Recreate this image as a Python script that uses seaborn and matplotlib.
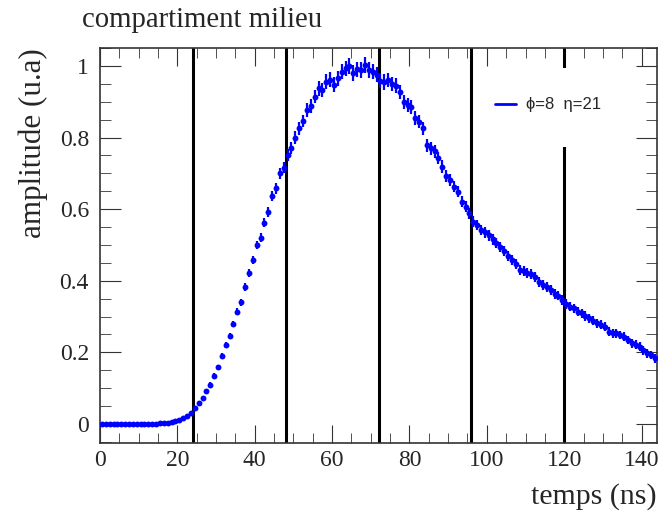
import numpy as np
import pandas as pd
import seaborn as sns
import matplotlib.pyplot as plt
from matplotlib.lines import Line2D
from matplotlib.patches import Rectangle
from matplotlib.ticker import MultipleLocator

# time bins (ns), centre of each 1 ns bin
temps = np.arange(144) + 0.5

amplitude = [
    0.000, 0.000, 0.000, 0.000, 0.000, 0.000, 0.000, 0.000, 0.000, 0.000,
    0.000, 0.000, 0.001, 0.001, 0.001, 0.002, 0.002, 0.003, 0.005, 0.008,
    0.012, 0.017, 0.022, 0.030, 0.046, 0.059, 0.073, 0.092, 0.110, 0.135,
    0.159, 0.190, 0.220, 0.246, 0.280, 0.314, 0.340, 0.382, 0.421, 0.458,
    0.500, 0.520, 0.562, 0.593, 0.637, 0.658, 0.700, 0.716, 0.751, 0.771,
    0.800, 0.826, 0.846, 0.877, 0.888, 0.914, 0.937, 0.933, 0.956, 0.961,
    0.947, 0.966, 0.984, 0.993, 1.000, 0.980, 0.990, 0.989, 1.003, 0.989,
    0.984, 0.975, 0.958, 0.955, 0.960, 0.950, 0.945, 0.928, 0.900, 0.891,
    0.886, 0.854, 0.844, 0.826, 0.778, 0.770, 0.761, 0.742, 0.719, 0.693,
    0.682, 0.663, 0.649, 0.621, 0.607, 0.588, 0.565, 0.556, 0.542, 0.535,
    0.527, 0.516, 0.505, 0.494, 0.484, 0.469, 0.458, 0.447, 0.430, 0.428,
    0.423, 0.418, 0.410, 0.397, 0.388, 0.383, 0.374, 0.363, 0.358, 0.346,
    0.335, 0.328, 0.323, 0.314, 0.309, 0.302, 0.295, 0.289, 0.281, 0.277,
    0.272, 0.258, 0.253, 0.253, 0.249, 0.244, 0.235, 0.225, 0.222, 0.216,
    0.206, 0.197, 0.193, 0.183,
]

erreur = [
    0.000, 0.000, 0.000, 0.000, 0.000, 0.000, 0.000, 0.000, 0.000, 0.000,
    0.000, 0.000, 0.000, 0.000, 0.000, 0.000, 0.000, 0.001, 0.001, 0.002,
    0.002, 0.003, 0.003, 0.004, 0.004, 0.005, 0.005, 0.006, 0.006, 0.007,
    0.007, 0.008, 0.008, 0.009, 0.009, 0.010, 0.010, 0.011, 0.011, 0.012,
    0.012, 0.013, 0.013, 0.014, 0.014, 0.015, 0.015, 0.016, 0.016, 0.017,
    0.017, 0.018, 0.018, 0.019, 0.019, 0.019, 0.020, 0.020, 0.020, 0.021,
    0.021, 0.021, 0.021, 0.022, 0.022, 0.022, 0.022, 0.022, 0.022, 0.022,
    0.021, 0.021, 0.021, 0.021, 0.020, 0.020, 0.020, 0.020, 0.019, 0.019,
    0.019, 0.019, 0.018, 0.018, 0.018, 0.018, 0.017, 0.017, 0.017, 0.017,
    0.016, 0.016, 0.016, 0.016, 0.016, 0.015, 0.015, 0.015, 0.015, 0.015,
    0.015, 0.015, 0.014, 0.014, 0.014, 0.014, 0.014, 0.014, 0.014, 0.014,
    0.014, 0.014, 0.014, 0.014, 0.013, 0.013, 0.013, 0.013, 0.013, 0.013,
    0.013, 0.013, 0.013, 0.013, 0.013, 0.013, 0.013, 0.013, 0.013, 0.013,
    0.012, 0.012, 0.012, 0.012, 0.012, 0.012, 0.012, 0.012, 0.012, 0.012,
    0.012, 0.012, 0.012, 0.012,
]

# sampling boundaries (ns)
bornes = [24, 48, 72, 96, 120]

y_ticks = [0, 0.2, 0.4, 0.6, 0.8, 1]
y_tick_labels = ["0", "0.2", "0.4", "0.6", "0.8", "1"]
x_ticks = [0, 20, 40, 60, 80, 100, 120, 140]

df = pd.DataFrame({"temps": temps, "amplitude": amplitude, "erreur": erreur})

sns.set_style("ticks")
plt.rcParams["font.family"] = ["Liberation Serif", "DejaVu Serif"]

fig = plt.figure(figsize=(6.6, 5.16), dpi=100)
ax = fig.add_axes([0.1515, 0.1415, 0.844, 0.7655])

for b in bornes:
    ax.axvline(b, color="black", lw=2.2, zorder=1)

ax.errorbar(df["temps"], df["amplitude"], yerr=df["erreur"], fmt="none",
            ecolor="blue", elinewidth=1.6, capsize=0, zorder=3)
sns.scatterplot(data=df, x="temps", y="amplitude", ax=ax, color="blue",
                s=18, linewidth=0, zorder=4, legend=False)

ax.set_xlim(0, 144)
ax.set_ylim(-0.053, 1.05)

ax.set_xticks(x_ticks)
ax.set_yticks(y_ticks)
ax.set_yticklabels(y_tick_labels)
ax.xaxis.set_minor_locator(MultipleLocator(5))
ax.yaxis.set_minor_locator(MultipleLocator(0.05))
ax.tick_params(which="both", direction="in", top=True, right=True,
               labelsize=17, color="#333333")
ax.tick_params(axis="x", which="major", length=13, pad=5)
ax.tick_params(axis="x", which="minor", length=7)
ax.tick_params(axis="y", which="major", length=15, pad=8)
ax.tick_params(axis="y", which="minor", length=8)
for sp in ax.spines.values():
    sp.set_linewidth(1.2)
    sp.set_color("#333333")

ax.set_xlabel("")
ax.set_ylabel("")
fig.text(0.9955, 0.037, "temps (ns)", ha="right", va="center", fontsize=21.5)
fig.text(0.05, 0.907, "amplitude (u.a)", ha="center", va="top",
         rotation=90, fontsize=22.3)
fig.text(0.124, 0.962, "compartiment milieu", ha="left", va="center",
         fontsize=20.7)

# white legend pad (hides the boundary line behind it, like the original)
ax.add_patch(Rectangle((0.69, 0.75), 0.25, 0.20, transform=ax.transAxes,
                       facecolor="white", edgecolor="none", zorder=5))
leg = ax.legend(handles=[Line2D([], [], color="blue", lw=2)],
                labels=["ϕ=8  η=21"], loc="center left",
                bbox_to_anchor=(0.695, 0.856), frameon=False,
                borderpad=0, handlelength=1.25, handletextpad=0.6,
                prop={"family": ["Liberation Sans", "DejaVu Sans"], "size": 12})
leg.set_zorder(6)

fig.savefig("out.png", dpi=100, facecolor="white")
